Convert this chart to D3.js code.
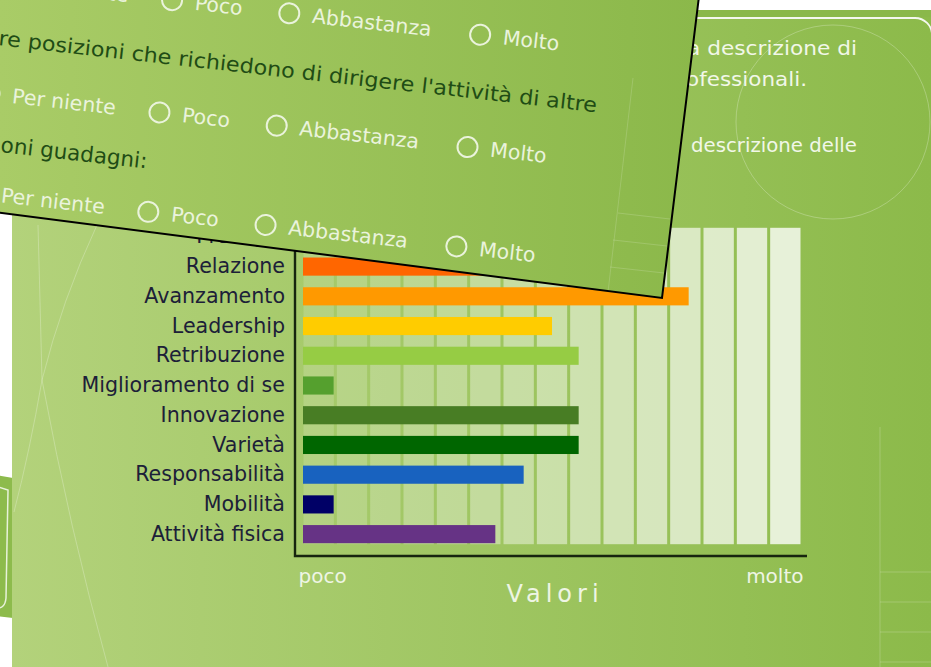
<!DOCTYPE html>
<html>
<head>
<meta charset="utf-8">
<script src="https://cdn.jsdelivr.net/npm/d3@7"></script>
<style>
  body { margin: 0; background: #fff; overflow: hidden; }
  svg { display: block; font-family: "DejaVu Sans", sans-serif; }
</style>
</head>
<body>
<svg id="chart" width="931" height="667"></svg>
<script>
// chart data
const categories = ["Prestigio", "Relazione", "Avanzamento", "Leadership", "Retribuzione",
  "Miglioramento di se", "Innovazione", "Varietà", "Responsabilità", "Mobilità", "Attività fisica"];
const values = [5.0, 6.0, 11.6, 7.5, 8.3, 0.95, 8.3, 8.3, 6.65, 0.95, 5.8];
const barColors = ["#cc2200", "#ff6600", "#ff9900", "#ffcc00", "#96cc44", "#55a02e",
  "#487d24", "#006600", "#1862bf", "#000066", "#663385"];
const scaleEnds = ["poco", "molto"];
const axisTitle = "Valori";

// survey card text (partly hidden)
const optionLabels = ["Per niente", "Poco", "Abbastanza", "Molto"];
const questionLines = ["re posizioni che richiedono di dirigere l'attività di altre", "oni guadagni:"];
const introLines = ["a descrizione di", "ofessionali.", "descrizione delle"];

const svg = d3.select("#chart");
const defs = svg.append("defs");

function grad(id, x1, x2, c1, c2) {
  const g = defs.append("linearGradient").attr("id", id)
    .attr("gradientUnits", "userSpaceOnUse")
    .attr("x1", x1).attr("y1", 0).attr("x2", x2).attr("y2", 0);
  g.append("stop").attr("offset", 0).attr("stop-color", c1);
  g.append("stop").attr("offset", 1).attr("stop-color", c2);
}
grad("panelGrad", 12, 931, "#b3d27b", "#8cba4a");
grad("cardGrad", 0, 700, "#a9cc67", "#8bb84a");

svg.append("rect").attr("width", 931).attr("height", 667).attr("fill", "#fff");

// card behind, at the left edge
svg.append("path")
  .attr("d", "M-20,472 L13,478 L13,618 L-20,614 Z")
  .attr("fill", "#8dbb4c");
svg.append("path")
  .attr("d", "M-5,486 L8,490 L6,598 Q5,609 -4,608")
  .attr("fill", "none").attr("stroke", "#e8f2da").attr("stroke-width", 1.5);

// main panel
svg.append("rect").attr("x", 12).attr("y", 10).attr("width", 1000).attr("height", 700)
  .attr("fill", "url(#panelGrad)");
svg.append("rect").attr("x", 12).attr("y", 10).attr("width", 1000).attr("height", 7)
  .attr("fill", "#8ab84a");
svg.append("path")
  .attr("d", "M12,18 H915 A17,17 0 0 1 932,35")
  .attr("fill", "none").attr("stroke", "#f4f8ee").attr("stroke-width", 1.8);

svg.append("circle").attr("cx", 833).attr("cy", 122).attr("r", 97)
  .attr("fill", "none").attr("stroke", "rgba(255,255,255,0.25)").attr("stroke-width", 1);
svg.append("path").attr("d", "M880,427 V667 M880,572 H931 M880,602 H931 M880,632 H931 M880,662 H931")
  .attr("fill", "none").attr("stroke", "rgba(255,255,255,0.2)");
svg.append("path").attr("d", "M97,225 Q62,300 42,380 Q30,450 14,512 M38,225 Q40,300 42,380 Q70,530 108,667")
  .attr("fill", "none").attr("stroke", "rgba(255,255,255,0.25)").attr("stroke-width", 1);

svg.append("g").selectAll("text")
  .data(introLines)
  .join("text")
    .attr("x", (d, i) => [687, 686, 691][i])
    .attr("y", (d, i) => [55, 86, 152][i])
    .attr("textLength", (d, i) => [170, 121, 166][i])
    .attr("lengthAdjust", "spacingAndGlyphs")
    .attr("font-size", 19.5)
    .attr("fill", "#f1f7e8")
    .text(d => d);

// bar chart
const m = { top: 222, right: 129, bottom: 118, left: 302 };
const x = d3.scaleLinear().domain([0, 15]).range([m.left, 931 - m.right]);
const y = d3.scaleBand().domain(categories)
  .range([m.top, 667 - m.bottom])
  .paddingInner(0.39).paddingOuter(0.195);
const axisY = 556;
const stripeTop = y(categories[0]), stripeBottom = y(categories[categories.length - 1]) + y.bandwidth() + 1;

const stripeAlpha = d3.scaleLinear().domain([0, 14]).range([0.16, 0.78]);
svg.append("g").selectAll("rect")
  .data(d3.range(15))
  .join("rect")
    .attr("x", d => x(d) + 1.5)
    .attr("y", stripeTop)
    .attr("width", x(1) - x(0) - 3)
    .attr("height", stripeBottom - stripeTop)
    .attr("fill", "#fff")
    .attr("fill-opacity", d => stripeAlpha(d));

svg.append("g").selectAll("rect")
  .data(categories)
  .join("rect")
    .attr("x", x(0) + 1)
    .attr("y", d => y(d))
    .attr("width", (d, i) => x(values[i]) - x(0) - 1)
    .attr("height", y.bandwidth())
    .attr("fill", (d, i) => barColors[i]);

svg.append("g")
  .attr("transform", `translate(${x(0) - 7},0)`)
  .call(d3.axisLeft(y).tickSize(0).tickPadding(10))
  .call(g => g.select(".domain").remove())
  .call(g => g.selectAll("text")
    .attr("font-family", "DejaVu Sans")
    .attr("font-size", 20.6)
    .attr("fill", "#1c2038"));

svg.append("path")
  .attr("d", `M${x(0) - 7},${stripeTop} V${axisY} H${x(15) + 5}`)
  .attr("fill", "none").attr("stroke", "#17250f").attr("stroke-width", 2.4);

svg.append("g")
  .attr("transform", `translate(0,${axisY})`)
  .call(d3.axisBottom(x).tickValues([0, 15]).tickFormat((d, i) => scaleEnds[i]).tickSize(0))
  .call(g => g.select(".domain").remove())
  .call(g => g.selectAll("text")
    .attr("y", 27).attr("dy", 0)
    .attr("x", (d, i) => i === 0 ? -4 : 1)
    .attr("font-family", "DejaVu Sans")
    .attr("font-size", 20)
    .attr("fill", "#eef5e4")
    .attr("text-anchor", (d, i) => i === 0 ? "start" : "end"));

svg.append("text")
  .attr("x", (x(0) + x(15)) / 2 + 3)
  .attr("y", 602)
  .attr("text-anchor", "middle")
  .attr("font-size", 24)
  .attr("letter-spacing", 5)
  .attr("fill", "#eef5e4")
  .text(axisTitle);

// rotated survey card on top
svg.append("path")
  .attr("d", "M-30,209 L662,298 L701,-20 L-30,-20 Z")
  .attr("fill", "url(#cardGrad)");
svg.append("path")
  .attr("d", "M633,78 L608,292 M618,213 L670,219 M613,240 L667,246 M610,267 L664,273")
  .attr("fill", "none").attr("stroke", "rgba(255,255,255,0.16)");
svg.append("path")
  .attr("d", "M-30,209 L662,298 L701,-20")
  .attr("fill", "none").attr("stroke", "#000").attr("stroke-width", 2);

const card = svg.append("g").attr("transform", "rotate(6.4)");
const optionU = [0, 171, 289, 481];
const rowV = [-19, 94, 194];

rowV.forEach(v => {
  const row = card.append("g");
  row.selectAll("circle")
    .data(optionLabels)
    .join("circle")
      .attr("cx", (d, i) => optionU[i])
      .attr("cy", v)
      .attr("r", 10)
      .attr("fill", "none")
      .attr("stroke", "#eaf3dc")
      .attr("stroke-width", 2);
  row.selectAll("text")
    .data(optionLabels)
    .join("text")
      .attr("x", (d, i) => optionU[i] + 23)
      .attr("y", v + 7)
      .attr("font-size", 20.5)
      .attr("fill", "#eaf3dc")
      .text(d => d);
});

card.append("text")
  .attr("x", 3).attr("y", 45)
  .attr("font-size", 20.5)
  .attr("fill", "#1f4c15")
  .attr("textLength", 602).attr("lengthAdjust", "spacingAndGlyphs")
  .text(questionLines[0]);
card.append("text")
  .attr("x", 17).attr("y", 151)
  .attr("font-size", 21.5)
  .attr("fill", "#1f4c15")
  .text(questionLines[1]);
</script>
</body>
</html>
